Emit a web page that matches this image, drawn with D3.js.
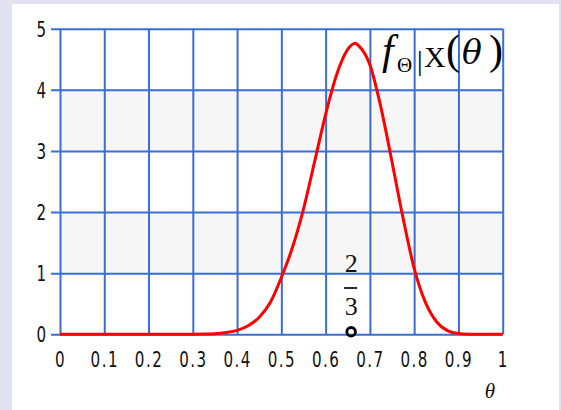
<!DOCTYPE html>
<html>
<head>
<meta charset="utf-8">
<script src="https://cdn.jsdelivr.net/npm/d3@7"></script>
<style>
  body { margin: 0; background: #e2e2f3; }
  svg { display: block; }
  .tick text { font-family: "DejaVu Sans", sans-serif; font-size: 21px; fill: #111; }
</style>
</head>
<body>
<script>
// posterior density
var theta = [0, 0.1, 0.2, 0.3, 0.325, 0.35, 0.375, 0.4, 0.425, 0.45, 0.475, 0.5, 0.525, 0.55, 0.575, 0.6,
             0.625, 0.65, 0.667, 0.675, 0.7, 0.725, 0.75, 0.775, 0.8, 0.825, 0.85, 0.875, 0.9, 0.925, 0.95, 1];
var density = [0, 0, 0, 0.001, 0.003, 0.01, 0.03, 0.065, 0.14, 0.28, 0.52, 0.93, 1.42, 2.05, 2.82, 3.6,
               4.25, 4.66, 4.76, 4.72, 4.41, 3.71, 2.82, 1.9, 1.08, 0.53, 0.21, 0.06, 0.012, 0.002, 0, 0];
var xTicks = [0, 0.1, 0.2, 0.3, 0.4, 0.5, 0.6, 0.7, 0.8, 0.9, 1];
var xTickLabels = ["0", "0.1", "0.2", "0.3", "0.4", "0.5", "0.6", "0.7", "0.8", "0.9", "1"];
var yTicks = [0, 1, 2, 3, 4, 5];
var yTickLabels = ["0", "1", "2", "3", "4", "5"];
var bands = [[3, 4], [1, 2]];
var markTheta = 2 / 3;

var W = 561, H = 410;
var narrow = 0.72;
var svg = d3.select('body').append('svg').attr('width', W).attr('height', H);

svg.append('rect').attr('x', 12).attr('y', 4).attr('width', 547).attr('height', H - 4).attr('fill', '#fff');

var x = d3.scaleLinear().domain([0, 1]).range([60, 502.7]);
var y = d3.scaleLinear().domain([0, 5]).range([334.3, 28.7]);
var gridColor = '#3b6dd6';

svg.selectAll('rect.band').data(bands).enter().append('rect')
    .attr('class', 'band')
    .attr('x', x(0)).attr('width', x(1) - x(0))
    .attr('y', function(d) { return y(d[1]); })
    .attr('height', function(d) { return y(d[0]) - y(d[1]); })
    .attr('fill', '#f6f6f6');

// y grid + labels
var yAxis = svg.append('g')
    .attr('transform', 'translate(51,0)')
    .call(d3.axisLeft(y).tickValues(yTicks)
        .tickFormat(function(d, i) { return yTickLabels[i]; })
        .tickSizeInner(-(x(1) - 51)).tickSizeOuter(0).tickPadding(5));
yAxis.select('.domain').remove();
yAxis.selectAll('line').attr('stroke', gridColor).attr('stroke-width', 2);
yAxis.selectAll('text')
    .attr('x', -5 / narrow)
    .attr('dy', '0.36em')
    .attr('transform', 'scale(' + narrow + ',1)');

// x grid + labels
var xAxis = svg.append('g')
    .attr('transform', 'translate(0,' + y(0) + ')')
    .call(d3.axisBottom(x).tickValues(xTicks)
        .tickFormat(function(d, i) { return xTickLabels[i]; })
        .tickSizeInner(-(y(0) - y(5))).tickSizeOuter(0).tickPadding(18));
xAxis.select('.domain').remove();
xAxis.selectAll('line').attr('stroke', gridColor).attr('stroke-width', 2);
xAxis.selectAll('text')
    .attr('letter-spacing', '2px')
    .attr('transform', 'scale(' + narrow + ',1)');

// curve
var line = d3.line()
    .x(function(d) { return x(d[0]); })
    .y(function(d) { return y(d[1]); })
    .curve(d3.curveMonotoneX);
svg.append('path')
    .datum(d3.zip(theta, density))
    .attr('d', line)
    .attr('fill', 'none')
    .attr('stroke', '#ff0000')
    .attr('stroke-width', 3);

// marker at 2/3
var mx = x(markTheta) - 4;
svg.append('circle').attr('cx', mx).attr('cy', y(0) - 2.5).attr('r', 4.3)
    .attr('fill', 'none').attr('stroke', '#000').attr('stroke-width', 2.8);
var frac = svg.append('g').attr('font-family', 'Liberation Serif, DejaVu Serif, serif').attr('font-size', 26).attr('fill', '#111');
frac.append('text').attr('x', mx).attr('y', 272).attr('text-anchor', 'middle').text('2');
frac.append('line').attr('x1', mx - 7).attr('x2', mx + 6).attr('y1', 288).attr('y2', 288).attr('stroke', '#111').attr('stroke-width', 1.8);
frac.append('text').attr('x', mx).attr('y', 315).attr('text-anchor', 'middle').text('3');

// function label
var lbl = svg.append('text').attr('x', 382).attr('y', 64)
    .attr('font-family', 'Liberation Serif, DejaVu Serif, serif').attr('fill', '#000');
lbl.append('tspan').attr('font-size', 42).attr('font-style', 'italic').text('f');
lbl.append('tspan').attr('font-size', 21).attr('x', 397).attr('y', 72).text('Θ');
lbl.append('tspan').attr('font-size', 28).attr('x', 417).attr('y', 70).text('|');
lbl.append('tspan').attr('font-size', 30).attr('x', 424).attr('y', 66.7).text('X');
lbl.append('tspan').attr('font-size', 42).attr('x', 446).attr('y', 64).text('(');
lbl.append('tspan').attr('font-size', 33).attr('x', 462).attr('font-style', 'italic').attr('font-family', 'DejaVu Serif, serif').text('θ');
lbl.append('tspan').attr('font-size', 42).attr('x', 489).text(')');

// axis title
svg.append('text').attr('x', 490).attr('y', 398).attr('text-anchor', 'middle')
    .attr('font-family', 'Liberation Serif, DejaVu Serif, serif').attr('font-style', 'italic')
    .attr('font-size', 21).attr('fill', '#111').text('θ');
</script>
</body>
</html>
